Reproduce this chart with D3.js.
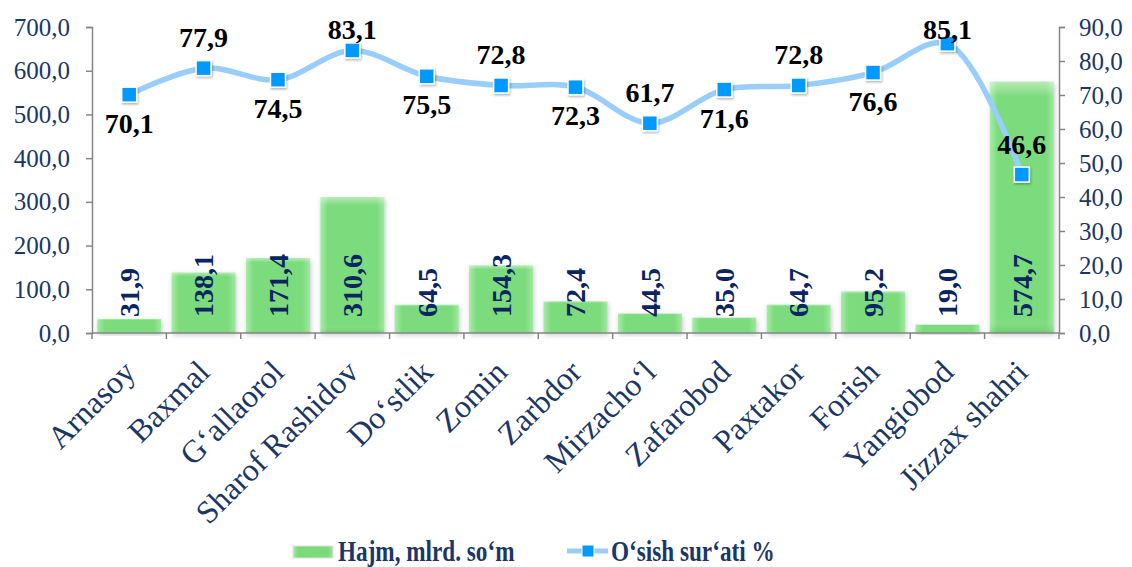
<!DOCTYPE html>
<html><head><meta charset="utf-8">
<script src="https://cdn.jsdelivr.net/npm/d3@7"></script>
<style>
html,body{margin:0;padding:0;background:#fff;}
svg{display:block;}
svg text{font-family:"Liberation Serif","Times New Roman",Times,serif;}
</style>
</head><body>
<svg id="chart" width="1132" height="567"></svg>
<script>
const categories = ["Arnasoy","Baxmal","G‘allaorol","Sharof Rashidov","Do‘stlik","Zomin","Zarbdor","Mirzacho‘l","Zafarobod","Paxtakor","Forish","Yangiobod","Jizzax shahri"];
const volume = [31.9,138.1,171.4,310.6,64.5,154.3,72.4,44.5,35.0,64.7,95.2,19.0,574.7];
const growth = [70.1,77.9,74.5,83.1,75.5,72.8,72.3,61.7,71.6,72.8,76.6,85.1,46.6];
const growthLabelPos = ["below","above","below","above","below","above","below","above","below","above","below","above","above"];
const leftTicks = [0,100,200,300,400,500,600,700];
const rightTicks = [0,10,20,30,40,50,60,70,80,90];
const seriesNames = ["Hajm, mlrd. so‘m","O‘sish sur‘ati %"];

const svg = d3.select("#chart");
const L = 92, R = 1059, T = 27, B = 333;
const fmt = v => d3.format(".1f")(v).replace(".", ",");

const x = d3.scaleBand().domain(categories).range([L, R]).paddingInner(0.14).paddingOuter(0.07);
const yL = d3.scaleLinear().domain([0, 700]).range([B, T]);
const yR = d3.scaleLinear().domain([0, 90]).range([B, T]);

const defs = svg.append("defs");
const g1 = defs.append("linearGradient").attr("id","barGrad").attr("x1","0").attr("x2","1").attr("y1","0").attr("y2","0");
g1.append("stop").attr("offset","0").attr("stop-color","#a6eda6");
g1.append("stop").attr("offset","0.12").attr("stop-color","#7bdb7b");
g1.append("stop").attr("offset","0.88").attr("stop-color","#7bdb7b");
g1.append("stop").attr("offset","1").attr("stop-color","#9fe99f");
const g2 = defs.append("linearGradient").attr("id","barGradV").attr("x1","0").attr("x2","0").attr("y1","0").attr("y2","1");
g2.append("stop").attr("offset","0").attr("stop-color","#ffffff").attr("stop-opacity","0.45");
g2.append("stop").attr("offset","0.06").attr("stop-color","#ffffff").attr("stop-opacity","0");
g2.append("stop").attr("offset","0.94").attr("stop-color","#ffffff").attr("stop-opacity","0");
g2.append("stop").attr("offset","1").attr("stop-color","#3a9a3a").attr("stop-opacity","0.25");
const sh = defs.append("filter").attr("id","shadow").attr("x","-20%").attr("y","-20%").attr("width","140%").attr("height","140%");
sh.append("feDropShadow").attr("dx",1).attr("dy",2).attr("stdDeviation",2.5).attr("flood-color","#6a5a8a").attr("flood-opacity",0.35);
const sh2 = defs.append("filter").attr("id","mshadow").attr("x","-50%").attr("y","-50%").attr("width","200%").attr("height","200%");
sh2.append("feDropShadow").attr("dx",1).attr("dy",1.5).attr("stdDeviation",1.2).attr("flood-color","#000").attr("flood-opacity",0.3);

// bars
const bars = svg.append("g");
bars.selectAll("rect.bar").data(volume).join("rect").attr("class","bar")
  .attr("x",(d,i)=>x(categories[i])).attr("width",x.bandwidth())
  .attr("y",d=>yL(d)).attr("height",d=>yL(0)-yL(d))
  .attr("fill","url(#barGrad)").attr("filter","url(#shadow)");
bars.selectAll("rect.hl").data(volume).join("rect").attr("class","hl")
  .attr("x",(d,i)=>x(categories[i])).attr("width",x.bandwidth())
  .attr("y",d=>yL(d)).attr("height",d=>yL(0)-yL(d))
  .attr("fill","url(#barGradV)");

// axes
const axisColor = "#868686";
const tickColor = "#1b3767";
const serif = '"Liberation Serif","Times New Roman",Times,serif';
const gl = svg.append("g").attr("transform",`translate(${L},0)`)
  .call(d3.axisLeft(yL).tickValues(leftTicks).tickFormat(fmt).tickSize(6).tickPadding(16));
const gr = svg.append("g").attr("transform",`translate(${R},0)`)
  .call(d3.axisRight(yR).tickValues(rightTicks).tickFormat(fmt).tickSize(6).tickPadding(14));
[gl,gr].forEach(g=>{
  g.attr("font-family",null).attr("font-size",null);
  g.select(".domain").attr("stroke",axisColor).attr("stroke-width",1.5);
  g.selectAll(".tick line").attr("stroke",axisColor).attr("stroke-width",1.5);
  g.selectAll(".tick text").attr("fill",tickColor).style("font-family",serif).style("font-size","25px");
});
// bottom axis
const step = x.step();
const gb = svg.append("g");
gb.append("line").attr("x1",L).attr("x2",R).attr("y1",B).attr("y2",B).attr("stroke",axisColor).attr("stroke-width",1.5);
gb.selectAll("line.t").data(d3.range(categories.length+1)).join("line").attr("class","t")
  .attr("x1",i=>L+i*step).attr("x2",i=>L+i*step).attr("y1",B).attr("y2",B+6)
  .attr("stroke",axisColor).attr("stroke-width",1.5);
gb.selectAll("text").data(categories).join("text")
  .attr("transform",d=>`translate(${x(d)+x.bandwidth()/2},${B+33}) rotate(-45)`)
  .attr("text-anchor","end").attr("dy","0.35em")
  .attr("fill",tickColor).style("font-family",serif).style("font-size","32px")
  .text(d=>d);

// bar labels
svg.append("g").selectAll("text").data(volume).join("text")
  .attr("transform",(d,i)=>`translate(${x(categories[i])+x.bandwidth()/2},${B-16}) rotate(-90)`)
  .attr("dy","0.35em").attr("text-anchor","start")
  .attr("fill","#0b2462").style("font-family",serif)
  .style("font-weight","bold").style("font-size","28px")
  .text(d=>fmt(d));

// line
const cx = i => x(categories[i]) + x.bandwidth()/2;
const line = d3.line().x((d,i)=>cx(i)).y(d=>yR(d)).curve(d3.curveCatmullRom.alpha(0.5));
svg.append("path").datum(growth).attr("d",line).attr("fill","none")
  .attr("stroke","#99cdfb").attr("stroke-width",5.5).attr("stroke-linecap","round");
const ms = 15;
svg.append("g").selectAll("rect").data(growth).join("rect")
  .attr("x",(d,i)=>cx(i)-ms/2).attr("y",d=>yR(d)-ms/2).attr("width",ms).attr("height",ms)
  .attr("fill","#0099ff").attr("stroke","#ffffff").attr("stroke-width",1.5).attr("filter","url(#mshadow)");
svg.append("g").selectAll("text").data(growth).join("text")
  .attr("x",(d,i)=>cx(i))
  .attr("y",(d,i)=>growthLabelPos[i]==="above"? Math.max(yR(d)-21, 39) : yR(d)+38)
  .attr("text-anchor","middle").attr("fill","#000").style("font-family",serif)
  .style("font-weight","bold").style("font-size","28px")
  .text(d=>fmt(d));

// legend
const lg = svg.append("g");
lg.append("rect").attr("x",293).attr("y",546).attr("width",40).attr("height",12)
  .attr("fill","url(#barGrad)").attr("stroke","#e8e0e0").attr("stroke-width",1);
lg.append("text").attr("transform","translate(338,561) scale(0.8,1)")
  .attr("fill","#1b3767").style("font-family",serif)
  .style("font-weight","bold").style("font-size","29px").text(seriesNames[0]);
lg.append("line").attr("x1",567).attr("x2",608).attr("y1",551).attr("y2",551).attr("stroke","#99cdfb").attr("stroke-width",5);
lg.append("rect").attr("x",582).attr("y",545).attr("width",12).attr("height",12).attr("fill","#0099ff").attr("stroke","#fff").attr("stroke-width",1);
lg.append("text").attr("transform","translate(611,561) scale(0.8,1)")
  .attr("fill","#1b3767").style("font-family",serif)
  .style("font-weight","bold").style("font-size","29px").text(seriesNames[1]);
</script>
</body></html>
